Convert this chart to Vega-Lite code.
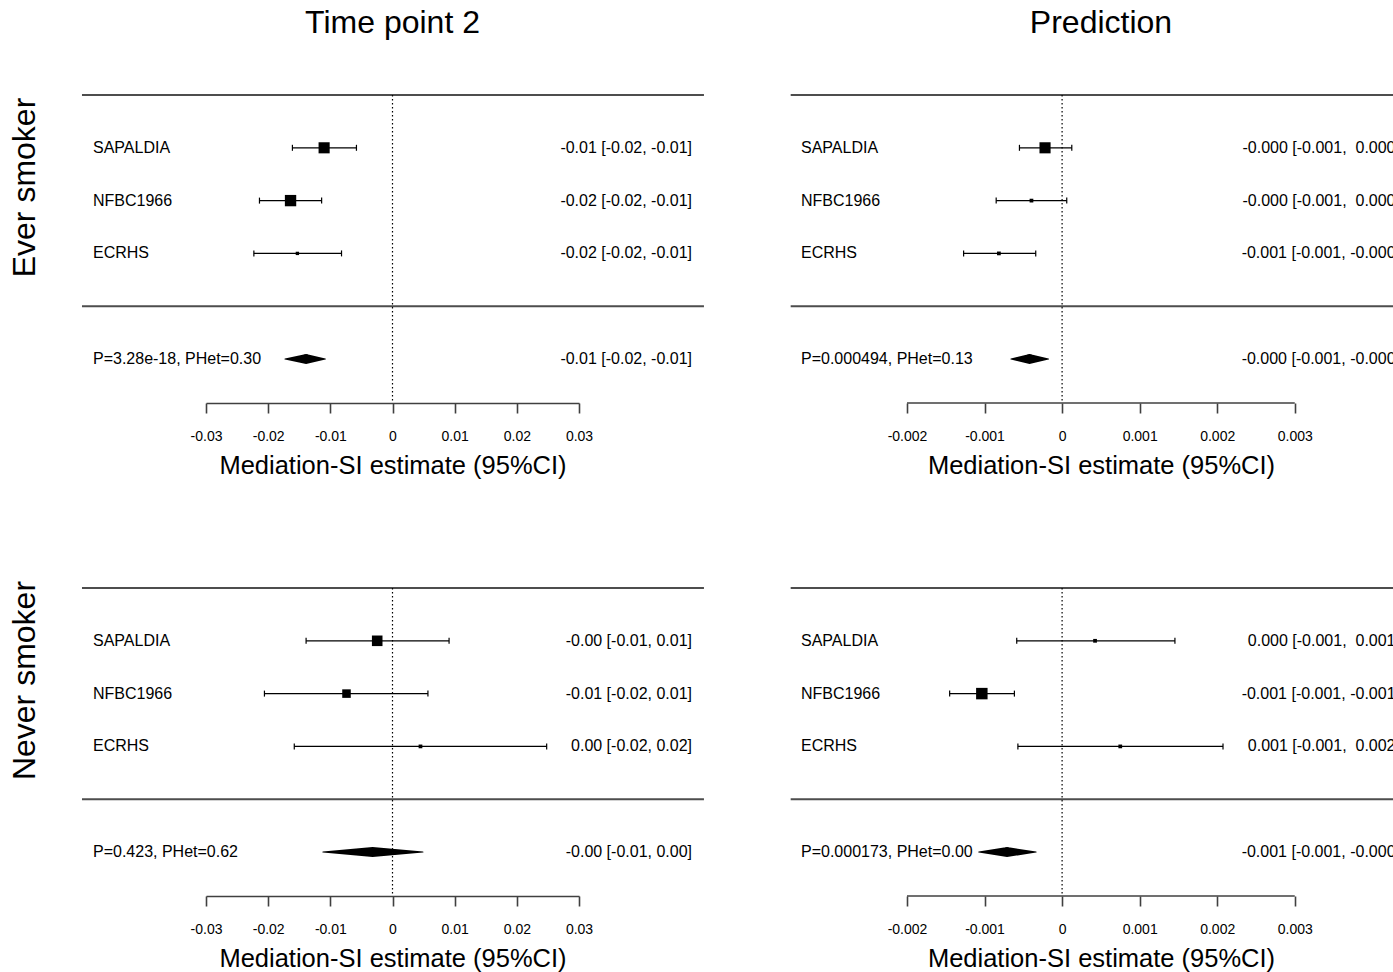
{
  "$schema": "https://vega.github.io/schema/vega-lite/v6.json",
  "padding": {"left": 8, "top": 7, "right": 0, "bottom": 0},
  "autosize": {"type": "pad"},
  "background": "white",
  "config": {
    "font": "Liberation Sans",
    "view": {"stroke": null},
    "title": {"font": "Liberation Sans", "fontSize": 32, "fontWeight": "normal", "color": "black", "baseline": "alphabetic", "offset": 54, "frame": "group"},
    "axis": {
      "grid": false,
      "labelFont": "Liberation Sans", "labelFontSize": 14, "labelColor": "black",
      "labelBaseline": "alphabetic", "labelPadding": 27, "labelFlush": false, "labelOverlap": false,
      "domainColor": "#404040", "domainWidth": 1.6,
      "tickColor": "#404040", "tickWidth": 1.6, "tickSize": 10,
      "titleFont": "Liberation Sans", "titleFontSize": 25.5, "titleFontWeight": "normal", "titleColor": "black",
      "titleBaseline": "alphabetic"
    },
    "text": {"font": "Liberation Sans", "fontSize": 16, "color": "black", "baseline": "middle"}
  },
  "datasets": {
    "tp2_ever": [
      {"study": "SAPALDIA", "row": 1, "est": -0.0110, "lo": -0.0161, "hi": -0.0058, "weight": 44, "ci": "-0.01 [-0.02, -0.01]", "kind": "study"},
      {"study": "NFBC1966", "row": 2, "est": -0.0164, "lo": -0.0214, "hi": -0.0114, "weight": 46, "ci": "-0.02 [-0.02, -0.01]", "kind": "study"},
      {"study": "ECRHS", "row": 3, "est": -0.0153, "lo": -0.0223, "hi": -0.0082, "weight": 4, "ci": "-0.02 [-0.02, -0.01]", "kind": "study"},
      {"study": "P=3.28e-18, PHet=0.30", "row": 5, "est": -0.0139, "lo": -0.0173, "hi": -0.0108, "weight": null, "ci": "-0.01 [-0.02, -0.01]", "kind": "summary"}
    ],
    "pred_ever": [
      {"study": "SAPALDIA", "row": 1, "est": -0.00022, "lo": -0.00055, "hi": 0.000125, "weight": 44, "ci": "-0.000 [-0.001,\u00a0 0.000]", "kind": "study"},
      {"study": "NFBC1966", "row": 2, "est": -0.000395, "lo": -0.00085, "hi": 0.00006, "weight": 5, "ci": "-0.000 [-0.001,\u00a0 0.000]", "kind": "study"},
      {"study": "ECRHS", "row": 3, "est": -0.000815, "lo": -0.00127, "hi": -0.00034, "weight": 5, "ci": "-0.001 [-0.001, -0.000]", "kind": "study"},
      {"study": "P=0.000494, PHet=0.13", "row": 5, "est": -0.00042, "lo": -0.00066, "hi": -0.000175, "weight": null, "ci": "-0.000 [-0.001, -0.000]", "kind": "summary"}
    ],
    "tp2_never": [
      {"study": "SAPALDIA", "row": 1, "est": -0.00246, "lo": -0.0139, "hi": 0.0091, "weight": 40, "ci": "-0.00 [-0.01, 0.01]", "kind": "study"},
      {"study": "NFBC1966", "row": 2, "est": -0.0074, "lo": -0.0206, "hi": 0.0057, "weight": 26, "ci": "-0.01 [-0.02, 0.01]", "kind": "study"},
      {"study": "ECRHS", "row": 3, "est": 0.0045, "lo": -0.0158, "hi": 0.0248, "weight": 5, "ci": "0.00 [-0.02, 0.02]", "kind": "study"},
      {"study": "P=0.423, PHet=0.62", "row": 5, "est": -0.0032, "lo": -0.0112, "hi": 0.0049, "weight": null, "ci": "-0.00 [-0.01, 0.00]", "kind": "summary"}
    ],
    "pred_never": [
      {"study": "SAPALDIA", "row": 1, "est": 0.000425, "lo": -0.000585, "hi": 0.001455, "weight": 5, "ci": "0.000 [-0.001,\u00a0 0.001]", "kind": "study"},
      {"study": "NFBC1966", "row": 2, "est": -0.001035, "lo": -0.00145, "hi": -0.000615, "weight": 47, "ci": "-0.001 [-0.001, -0.001]", "kind": "study"},
      {"study": "ECRHS", "row": 3, "est": 0.00075, "lo": -0.00057, "hi": 0.002075, "weight": 5, "ci": "0.001 [-0.001,\u00a0 0.002]", "kind": "study"},
      {"study": "P=0.000173, PHet=0.00", "row": 5, "est": -0.00071, "lo": -0.001075, "hi": -0.000335, "weight": null, "ci": "-0.001 [-0.001, -0.000]", "kind": "summary"}
    ]
  },
  "resolve": {"scale": {"size": "independent", "x": "independent", "y": "independent"}},
  "spacing": 101,
  "vconcat": [
    {
      "spacing": 84,
      "resolve": {"scale": {"size": "independent", "x": "independent", "y": "independent"}},
      "hconcat": [
        {
          "width": 373, "height": 308,
          "title": {"text": "Time point 2"},
          "data": {"name": "tp2_ever"},
          "resolve": {"scale": {"size": "independent"}},
          "layer": [
            {"transform": [{"filter": "datum.kind == 'study'"}],
             "mark": {"type": "rule", "color": "black", "strokeWidth": 1.2},
             "encoding": {
               "x": {"field": "lo", "type": "quantitative", "scale": {"domain": [-0.03, 0.03], "nice": false, "zero": false},
                     "axis": {"values": [-0.03, -0.02, -0.01, 0, 0.01, 0.02, 0.03], "title": "Mediation-SI estimate (95%CI)", "titleY": 70, "labelExpr": "replace(format(datum.value, '~g'), '\u2212', '-')"}},
               "x2": {"field": "hi"},
               "y": {"field": "row", "type": "quantitative", "scale": {"domain": [0, 5.833], "reverse": true, "nice": false, "zero": false},
                     "axis": {"title": "Ever smoker", "domain": false, "ticks": false, "labels": false, "titleFontSize": 32, "titleX": -172, "titleY": 92, "titleAngle": 270, "titleBaseline": "alphabetic", "titleAlign": "center"}}
             }},
            {"transform": [{"filter": "datum.kind == 'study'"}],
             "mark": {"type": "tick", "orient": "vertical", "size": 6, "thickness": 1.2, "color": "black", "opacity": 1},
             "encoding": {
               "x": {"field": "lo", "type": "quantitative", "scale": {"domain": [-0.03, 0.03], "nice": false, "zero": false}},
               "y": {"field": "row", "type": "quantitative", "scale": {"domain": [0, 5.833], "reverse": true, "nice": false, "zero": false}}
             }},
            {"transform": [{"filter": "datum.kind == 'study'"}],
             "mark": {"type": "tick", "orient": "vertical", "size": 6, "thickness": 1.2, "color": "black", "opacity": 1},
             "encoding": {
               "x": {"field": "hi", "type": "quantitative", "scale": {"domain": [-0.03, 0.03], "nice": false, "zero": false}},
               "y": {"field": "row", "type": "quantitative", "scale": {"domain": [0, 5.833], "reverse": true, "nice": false, "zero": false}}
             }},
            {"transform": [{"filter": "datum.kind == 'study'"}],
             "mark": {"type": "point", "shape": "square", "filled": true, "color": "black", "opacity": 1, "strokeWidth": 0},
             "encoding": {
               "x": {"field": "est", "type": "quantitative", "scale": {"domain": [-0.03, 0.03], "nice": false, "zero": false}},
               "y": {"field": "row", "type": "quantitative", "scale": {"domain": [0, 5.833], "reverse": true, "nice": false, "zero": false}},
               "size": {"field": "weight", "type": "quantitative", "scale": {"domain": [0, 100], "range": [0, 280]}, "legend": null}
             }},
            {"transform": [{"filter": "datum.kind == 'summary'"}, {"fold": ["lo", "est", "hi"], "as": ["part", "value"]}],
             "mark": {"type": "trail", "color": "black"},
             "encoding": {
               "x": {"field": "value", "type": "quantitative", "scale": {"domain": [-0.03, 0.03], "nice": false, "zero": false}},
               "y": {"field": "row", "type": "quantitative", "scale": {"domain": [0, 5.833], "reverse": true, "nice": false, "zero": false}},
               "size": {"field": "part", "type": "nominal", "scale": {"type": "ordinal", "domain": ["lo", "est", "hi"], "range": [0, 10, 0]}, "legend": null}
             }},
            {"data": {"values": [{}]},
             "mark": {"type": "rule", "color": "#4d4d4d", "strokeWidth": 2},
             "encoding": {
               "x": {"datum": -0.04995, "type": "quantitative", "scale": {"domain": [-0.03, 0.03], "nice": false, "zero": false}},
               "x2": {"datum": 0.0501},
               "y": {"datum": 0, "type": "quantitative", "scale": {"domain": [0, 5.833], "reverse": true, "nice": false, "zero": false}}
             }},
            {"data": {"values": [{}]},
             "mark": {"type": "rule", "color": "#4d4d4d", "strokeWidth": 2},
             "encoding": {
               "x": {"datum": -0.04995, "type": "quantitative", "scale": {"domain": [-0.03, 0.03], "nice": false, "zero": false}},
               "x2": {"datum": 0.0501},
               "y": {"datum": 4, "type": "quantitative", "scale": {"domain": [0, 5.833], "reverse": true, "nice": false, "zero": false}}
             }},
            {"data": {"values": [{}]},
             "mark": {"type": "rule", "color": "black", "strokeWidth": 1.2, "strokeDash": [1.5, 2.5]},
             "encoding": {
               "x": {"datum": 0, "type": "quantitative", "scale": {"domain": [-0.03, 0.03], "nice": false, "zero": false}},
               "y": {"datum": 0, "type": "quantitative", "scale": {"domain": [0, 5.833], "reverse": true, "nice": false, "zero": false}},
               "y2": {"datum": 5.833}
             }},
            {"mark": {"type": "text", "align": "left"},
             "encoding": {
               "x": {"datum": -0.04818, "type": "quantitative", "scale": {"domain": [-0.03, 0.03], "nice": false, "zero": false}},
               "y": {"field": "row", "type": "quantitative", "scale": {"domain": [0, 5.833], "reverse": true, "nice": false, "zero": false}},
               "text": {"field": "study"}
             }},
            {"mark": {"type": "text", "align": "right"},
             "encoding": {
               "x": {"datum": 0.04818, "type": "quantitative", "scale": {"domain": [-0.03, 0.03], "nice": false, "zero": false}},
               "y": {"field": "row", "type": "quantitative", "scale": {"domain": [0, 5.833], "reverse": true, "nice": false, "zero": false}},
               "text": {"field": "ci"}
             }}
          ]
        },
        {
          "width": 487, "height": 308,
          "title": {"text": "Prediction", "dx": -49.5},
          "data": {"name": "pred_ever"},
          "resolve": {"scale": {"size": "independent"}},
          "layer": [
            {"transform": [{"filter": "datum.kind == 'study'"}],
             "mark": {"type": "rule", "color": "black", "strokeWidth": 1.2},
             "encoding": {
               "x": {"field": "lo", "type": "quantitative", "scale": {"domain": [-0.002, 0.00428], "nice": false, "zero": false},
                     "axis": {"values": [-0.002, -0.001, 0, 0.001, 0.002, 0.003], "domain": false, "title": "Mediation-SI estimate (95%CI)", "titleX": 194, "titleY": 70, "titleAlign": "center", "labelExpr": "replace(format(datum.value, '~g'), '\u2212', '-')"}},
               "x2": {"field": "hi"},
               "y": {"field": "row", "type": "quantitative", "scale": {"domain": [0, 5.833], "reverse": true, "nice": false, "zero": false}, "axis": null}
             }},
            {"transform": [{"filter": "datum.kind == 'study'"}],
             "mark": {"type": "tick", "orient": "vertical", "size": 6, "thickness": 1.2, "color": "black", "opacity": 1},
             "encoding": {
               "x": {"field": "lo", "type": "quantitative", "scale": {"domain": [-0.002, 0.00428], "nice": false, "zero": false}},
               "y": {"field": "row", "type": "quantitative", "scale": {"domain": [0, 5.833], "reverse": true, "nice": false, "zero": false}, "axis": null}
             }},
            {"transform": [{"filter": "datum.kind == 'study'"}],
             "mark": {"type": "tick", "orient": "vertical", "size": 6, "thickness": 1.2, "color": "black", "opacity": 1},
             "encoding": {
               "x": {"field": "hi", "type": "quantitative", "scale": {"domain": [-0.002, 0.00428], "nice": false, "zero": false}},
               "y": {"field": "row", "type": "quantitative", "scale": {"domain": [0, 5.833], "reverse": true, "nice": false, "zero": false}, "axis": null}
             }},
            {"transform": [{"filter": "datum.kind == 'study'"}],
             "mark": {"type": "point", "shape": "square", "filled": true, "color": "black", "opacity": 1, "strokeWidth": 0},
             "encoding": {
               "x": {"field": "est", "type": "quantitative", "scale": {"domain": [-0.002, 0.00428], "nice": false, "zero": false}},
               "y": {"field": "row", "type": "quantitative", "scale": {"domain": [0, 5.833], "reverse": true, "nice": false, "zero": false}, "axis": null},
               "size": {"field": "weight", "type": "quantitative", "scale": {"domain": [0, 100], "range": [0, 280]}, "legend": null}
             }},
            {"transform": [{"filter": "datum.kind == 'summary'"}, {"fold": ["lo", "est", "hi"], "as": ["part", "value"]}],
             "mark": {"type": "trail", "color": "black"},
             "encoding": {
               "x": {"field": "value", "type": "quantitative", "scale": {"domain": [-0.002, 0.00428], "nice": false, "zero": false}},
               "y": {"field": "row", "type": "quantitative", "scale": {"domain": [0, 5.833], "reverse": true, "nice": false, "zero": false}, "axis": null},
               "size": {"field": "part", "type": "nominal", "scale": {"type": "ordinal", "domain": ["lo", "est", "hi"], "range": [0, 10, 0]}, "legend": null}
             }},
            {"data": {"values": [{}]},
             "mark": {"type": "rule", "color": "#4d4d4d", "strokeWidth": 2},
             "encoding": {
               "x": {"datum": -0.0035, "type": "quantitative", "scale": {"domain": [-0.002, 0.00428], "nice": false, "zero": false}},
               "x2": {"datum": 0.00428},
               "y": {"datum": 0, "type": "quantitative", "scale": {"domain": [0, 5.833], "reverse": true, "nice": false, "zero": false}, "axis": null}
             }},
            {"data": {"values": [{}]},
             "mark": {"type": "rule", "color": "#4d4d4d", "strokeWidth": 2},
             "encoding": {
               "x": {"datum": -0.0035, "type": "quantitative", "scale": {"domain": [-0.002, 0.00428], "nice": false, "zero": false}},
               "x2": {"datum": 0.00428},
               "y": {"datum": 4, "type": "quantitative", "scale": {"domain": [0, 5.833], "reverse": true, "nice": false, "zero": false}, "axis": null}
             }},
            {"data": {"values": [{}]},
             "mark": {"type": "rule", "color": "#404040", "strokeWidth": 1.6},
             "encoding": {
               "x": {"datum": -0.002, "type": "quantitative", "scale": {"domain": [-0.002, 0.00428], "nice": false, "zero": false}},
               "x2": {"datum": 0.003},
               "y": {"datum": 5.833, "type": "quantitative", "scale": {"domain": [0, 5.833], "reverse": true, "nice": false, "zero": false}, "axis": null}
             }},
            {"data": {"values": [{}]},
             "mark": {"type": "rule", "color": "black", "strokeWidth": 1.2, "strokeDash": [1.5, 2.5]},
             "encoding": {
               "x": {"datum": 0, "type": "quantitative", "scale": {"domain": [-0.002, 0.00428], "nice": false, "zero": false}},
               "y": {"datum": 0, "type": "quantitative", "scale": {"domain": [0, 5.833], "reverse": true, "nice": false, "zero": false}, "axis": null},
               "y2": {"datum": 5.833}
             }},
            {"mark": {"type": "text", "align": "left"},
             "encoding": {
               "x": {"datum": -0.003367, "type": "quantitative", "scale": {"domain": [-0.002, 0.00428], "nice": false, "zero": false}},
               "y": {"field": "row", "type": "quantitative", "scale": {"domain": [0, 5.833], "reverse": true, "nice": false, "zero": false}, "axis": null},
               "text": {"field": "study"}
             }},
            {"mark": {"type": "text", "align": "right", "clip": true},
             "encoding": {
               "x": {"datum": 0.004357, "type": "quantitative", "scale": {"domain": [-0.002, 0.00428], "nice": false, "zero": false}},
               "y": {"field": "row", "type": "quantitative", "scale": {"domain": [0, 5.833], "reverse": true, "nice": false, "zero": false}, "axis": null},
               "text": {"field": "ci"}
             }}
          ]
        }
      ]
    },
    {
      "spacing": 84,
      "resolve": {"scale": {"size": "independent", "x": "independent", "y": "independent"}},
      "hconcat": [
        {
          "width": 373, "height": 308,
          "data": {"name": "tp2_never"},
          "resolve": {"scale": {"size": "independent"}},
          "layer": [
            {"transform": [{"filter": "datum.kind == 'study'"}],
             "mark": {"type": "rule", "color": "black", "strokeWidth": 1.2},
             "encoding": {
               "x": {"field": "lo", "type": "quantitative", "scale": {"domain": [-0.03, 0.03], "nice": false, "zero": false},
                     "axis": {"values": [-0.03, -0.02, -0.01, 0, 0.01, 0.02, 0.03], "title": "Mediation-SI estimate (95%CI)", "titleY": 70, "labelExpr": "replace(format(datum.value, '~g'), '\u2212', '-')"}},
               "x2": {"field": "hi"},
               "y": {"field": "row", "type": "quantitative", "scale": {"domain": [0, 5.833], "reverse": true, "nice": false, "zero": false},
                     "axis": {"title": "Never smoker", "domain": false, "ticks": false, "labels": false, "titleFontSize": 32, "titleX": -172, "titleY": 92, "titleAngle": 270, "titleBaseline": "alphabetic", "titleAlign": "center"}}
             }},
            {"transform": [{"filter": "datum.kind == 'study'"}],
             "mark": {"type": "tick", "orient": "vertical", "size": 6, "thickness": 1.2, "color": "black", "opacity": 1},
             "encoding": {
               "x": {"field": "lo", "type": "quantitative", "scale": {"domain": [-0.03, 0.03], "nice": false, "zero": false}},
               "y": {"field": "row", "type": "quantitative", "scale": {"domain": [0, 5.833], "reverse": true, "nice": false, "zero": false}}
             }},
            {"transform": [{"filter": "datum.kind == 'study'"}],
             "mark": {"type": "tick", "orient": "vertical", "size": 6, "thickness": 1.2, "color": "black", "opacity": 1},
             "encoding": {
               "x": {"field": "hi", "type": "quantitative", "scale": {"domain": [-0.03, 0.03], "nice": false, "zero": false}},
               "y": {"field": "row", "type": "quantitative", "scale": {"domain": [0, 5.833], "reverse": true, "nice": false, "zero": false}}
             }},
            {"transform": [{"filter": "datum.kind == 'study'"}],
             "mark": {"type": "point", "shape": "square", "filled": true, "color": "black", "opacity": 1, "strokeWidth": 0},
             "encoding": {
               "x": {"field": "est", "type": "quantitative", "scale": {"domain": [-0.03, 0.03], "nice": false, "zero": false}},
               "y": {"field": "row", "type": "quantitative", "scale": {"domain": [0, 5.833], "reverse": true, "nice": false, "zero": false}},
               "size": {"field": "weight", "type": "quantitative", "scale": {"domain": [0, 100], "range": [0, 280]}, "legend": null}
             }},
            {"transform": [{"filter": "datum.kind == 'summary'"}, {"fold": ["lo", "est", "hi"], "as": ["part", "value"]}],
             "mark": {"type": "trail", "color": "black"},
             "encoding": {
               "x": {"field": "value", "type": "quantitative", "scale": {"domain": [-0.03, 0.03], "nice": false, "zero": false}},
               "y": {"field": "row", "type": "quantitative", "scale": {"domain": [0, 5.833], "reverse": true, "nice": false, "zero": false}},
               "size": {"field": "part", "type": "nominal", "scale": {"type": "ordinal", "domain": ["lo", "est", "hi"], "range": [0, 10, 0]}, "legend": null}
             }},
            {"data": {"values": [{}]},
             "mark": {"type": "rule", "color": "#4d4d4d", "strokeWidth": 2},
             "encoding": {
               "x": {"datum": -0.04995, "type": "quantitative", "scale": {"domain": [-0.03, 0.03], "nice": false, "zero": false}},
               "x2": {"datum": 0.0501},
               "y": {"datum": 0, "type": "quantitative", "scale": {"domain": [0, 5.833], "reverse": true, "nice": false, "zero": false}}
             }},
            {"data": {"values": [{}]},
             "mark": {"type": "rule", "color": "#4d4d4d", "strokeWidth": 2},
             "encoding": {
               "x": {"datum": -0.04995, "type": "quantitative", "scale": {"domain": [-0.03, 0.03], "nice": false, "zero": false}},
               "x2": {"datum": 0.0501},
               "y": {"datum": 4, "type": "quantitative", "scale": {"domain": [0, 5.833], "reverse": true, "nice": false, "zero": false}}
             }},
            {"data": {"values": [{}]},
             "mark": {"type": "rule", "color": "black", "strokeWidth": 1.2, "strokeDash": [1.5, 2.5]},
             "encoding": {
               "x": {"datum": 0, "type": "quantitative", "scale": {"domain": [-0.03, 0.03], "nice": false, "zero": false}},
               "y": {"datum": 0, "type": "quantitative", "scale": {"domain": [0, 5.833], "reverse": true, "nice": false, "zero": false}},
               "y2": {"datum": 5.833}
             }},
            {"mark": {"type": "text", "align": "left"},
             "encoding": {
               "x": {"datum": -0.04818, "type": "quantitative", "scale": {"domain": [-0.03, 0.03], "nice": false, "zero": false}},
               "y": {"field": "row", "type": "quantitative", "scale": {"domain": [0, 5.833], "reverse": true, "nice": false, "zero": false}},
               "text": {"field": "study"}
             }},
            {"mark": {"type": "text", "align": "right"},
             "encoding": {
               "x": {"datum": 0.04818, "type": "quantitative", "scale": {"domain": [-0.03, 0.03], "nice": false, "zero": false}},
               "y": {"field": "row", "type": "quantitative", "scale": {"domain": [0, 5.833], "reverse": true, "nice": false, "zero": false}},
               "text": {"field": "ci"}
             }}
          ]
        },
        {
          "width": 487, "height": 308,
          "data": {"name": "pred_never"},
          "resolve": {"scale": {"size": "independent"}},
          "layer": [
            {"transform": [{"filter": "datum.kind == 'study'"}],
             "mark": {"type": "rule", "color": "black", "strokeWidth": 1.2},
             "encoding": {
               "x": {"field": "lo", "type": "quantitative", "scale": {"domain": [-0.002, 0.00428], "nice": false, "zero": false},
                     "axis": {"values": [-0.002, -0.001, 0, 0.001, 0.002, 0.003], "domain": false, "title": "Mediation-SI estimate (95%CI)", "titleX": 194, "titleY": 70, "titleAlign": "center", "labelExpr": "replace(format(datum.value, '~g'), '\u2212', '-')"}},
               "x2": {"field": "hi"},
               "y": {"field": "row", "type": "quantitative", "scale": {"domain": [0, 5.833], "reverse": true, "nice": false, "zero": false}, "axis": null}
             }},
            {"transform": [{"filter": "datum.kind == 'study'"}],
             "mark": {"type": "tick", "orient": "vertical", "size": 6, "thickness": 1.2, "color": "black", "opacity": 1},
             "encoding": {
               "x": {"field": "lo", "type": "quantitative", "scale": {"domain": [-0.002, 0.00428], "nice": false, "zero": false}},
               "y": {"field": "row", "type": "quantitative", "scale": {"domain": [0, 5.833], "reverse": true, "nice": false, "zero": false}, "axis": null}
             }},
            {"transform": [{"filter": "datum.kind == 'study'"}],
             "mark": {"type": "tick", "orient": "vertical", "size": 6, "thickness": 1.2, "color": "black", "opacity": 1},
             "encoding": {
               "x": {"field": "hi", "type": "quantitative", "scale": {"domain": [-0.002, 0.00428], "nice": false, "zero": false}},
               "y": {"field": "row", "type": "quantitative", "scale": {"domain": [0, 5.833], "reverse": true, "nice": false, "zero": false}, "axis": null}
             }},
            {"transform": [{"filter": "datum.kind == 'study'"}],
             "mark": {"type": "point", "shape": "square", "filled": true, "color": "black", "opacity": 1, "strokeWidth": 0},
             "encoding": {
               "x": {"field": "est", "type": "quantitative", "scale": {"domain": [-0.002, 0.00428], "nice": false, "zero": false}},
               "y": {"field": "row", "type": "quantitative", "scale": {"domain": [0, 5.833], "reverse": true, "nice": false, "zero": false}, "axis": null},
               "size": {"field": "weight", "type": "quantitative", "scale": {"domain": [0, 100], "range": [0, 280]}, "legend": null}
             }},
            {"transform": [{"filter": "datum.kind == 'summary'"}, {"fold": ["lo", "est", "hi"], "as": ["part", "value"]}],
             "mark": {"type": "trail", "color": "black"},
             "encoding": {
               "x": {"field": "value", "type": "quantitative", "scale": {"domain": [-0.002, 0.00428], "nice": false, "zero": false}},
               "y": {"field": "row", "type": "quantitative", "scale": {"domain": [0, 5.833], "reverse": true, "nice": false, "zero": false}, "axis": null},
               "size": {"field": "part", "type": "nominal", "scale": {"type": "ordinal", "domain": ["lo", "est", "hi"], "range": [0, 10, 0]}, "legend": null}
             }},
            {"data": {"values": [{}]},
             "mark": {"type": "rule", "color": "#4d4d4d", "strokeWidth": 2},
             "encoding": {
               "x": {"datum": -0.0035, "type": "quantitative", "scale": {"domain": [-0.002, 0.00428], "nice": false, "zero": false}},
               "x2": {"datum": 0.00428},
               "y": {"datum": 0, "type": "quantitative", "scale": {"domain": [0, 5.833], "reverse": true, "nice": false, "zero": false}, "axis": null}
             }},
            {"data": {"values": [{}]},
             "mark": {"type": "rule", "color": "#4d4d4d", "strokeWidth": 2},
             "encoding": {
               "x": {"datum": -0.0035, "type": "quantitative", "scale": {"domain": [-0.002, 0.00428], "nice": false, "zero": false}},
               "x2": {"datum": 0.00428},
               "y": {"datum": 4, "type": "quantitative", "scale": {"domain": [0, 5.833], "reverse": true, "nice": false, "zero": false}, "axis": null}
             }},
            {"data": {"values": [{}]},
             "mark": {"type": "rule", "color": "#404040", "strokeWidth": 1.6},
             "encoding": {
               "x": {"datum": -0.002, "type": "quantitative", "scale": {"domain": [-0.002, 0.00428], "nice": false, "zero": false}},
               "x2": {"datum": 0.003},
               "y": {"datum": 5.833, "type": "quantitative", "scale": {"domain": [0, 5.833], "reverse": true, "nice": false, "zero": false}, "axis": null}
             }},
            {"data": {"values": [{}]},
             "mark": {"type": "rule", "color": "black", "strokeWidth": 1.2, "strokeDash": [1.5, 2.5]},
             "encoding": {
               "x": {"datum": 0, "type": "quantitative", "scale": {"domain": [-0.002, 0.00428], "nice": false, "zero": false}},
               "y": {"datum": 0, "type": "quantitative", "scale": {"domain": [0, 5.833], "reverse": true, "nice": false, "zero": false}, "axis": null},
               "y2": {"datum": 5.833}
             }},
            {"mark": {"type": "text", "align": "left"},
             "encoding": {
               "x": {"datum": -0.003367, "type": "quantitative", "scale": {"domain": [-0.002, 0.00428], "nice": false, "zero": false}},
               "y": {"field": "row", "type": "quantitative", "scale": {"domain": [0, 5.833], "reverse": true, "nice": false, "zero": false}, "axis": null},
               "text": {"field": "study"}
             }},
            {"mark": {"type": "text", "align": "right", "clip": true},
             "encoding": {
               "x": {"datum": 0.004357, "type": "quantitative", "scale": {"domain": [-0.002, 0.00428], "nice": false, "zero": false}},
               "y": {"field": "row", "type": "quantitative", "scale": {"domain": [0, 5.833], "reverse": true, "nice": false, "zero": false}, "axis": null},
               "text": {"field": "ci"}
             }}
          ]
        }
      ]
    }
  ]
}
